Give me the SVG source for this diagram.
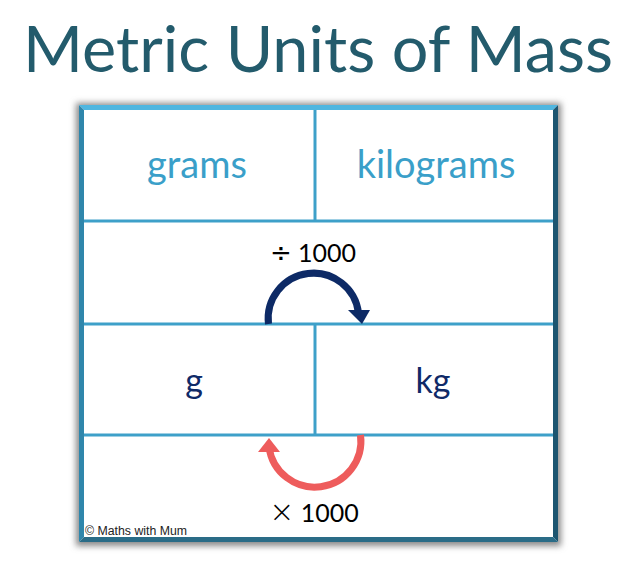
<svg xmlns="http://www.w3.org/2000/svg" width="639" height="566" viewBox="0 0 639 566">
<style>
.title{font-family:Lato,"Open Sans",sans-serif;font-size:64px;fill:#235B6C}
.unit{font-family:Lato,"Open Sans",sans-serif;font-size:38px;fill:#3A9FC9;text-anchor:middle}
.abbr{font-family:Lato,"Open Sans",sans-serif;font-size:34px;fill:#0F2A68;text-anchor:middle}
.op{font-family:Lato,"Open Sans",sans-serif;font-size:25px;fill:#000;text-anchor:middle}
.sym{font-family:"DejaVu Sans",sans-serif}
.thin{font-weight:300}
.copy{font-family:"Liberation Sans",Arial,sans-serif;font-size:12.3px;fill:#222}
.grid{stroke:#3EA0C9;stroke-width:3;fill:none}
</style>
<defs>
<filter id="shadow" x="-10%" y="-10%" width="120%" height="120%">
<feGaussianBlur stdDeviation="3"/>
</filter>
</defs>
<rect width="639" height="566" fill="#fff"/>
<g id="title"><text class="title" x="23" y="72" textLength="590" lengthAdjust="spacingAndGlyphs">Metric Units of Mass</text></g>
<g id="frame">
<rect x="76" y="103" width="485" height="443" fill="#8a8a8a" filter="url(#shadow)"/>
<rect x="79" y="105" width="479" height="437" fill="#fff"/>
<polygon points="79,105 558,105 553,110 84,110" fill="#4FB6E0"/>
<polygon points="79,105 84,110 84,537 79,542" fill="#2F86AB"/>
<polygon points="558,105 558,542 553,537 553,110" fill="#1C5570"/>
<polygon points="79,542 558,542 553,537 84,537" fill="#2A6C87"/>
</g>
<g id="grid">
<line class="grid" x1="84" y1="221" x2="553" y2="221"/>
<line class="grid" x1="84" y1="324" x2="553" y2="324"/>
<line class="grid" x1="84" y1="435" x2="553" y2="435"/>
<line class="grid" x1="315" y1="110" x2="315" y2="221"/>
<line class="grid" x1="315" y1="324" x2="315" y2="435"/>
</g>
<g id="node-grams"><text class="unit" x="197" y="178">grams</text></g>
<g id="node-kilograms"><text class="unit" x="436" y="178">kilograms</text></g>
<g id="node-g"><text class="abbr" x="194" y="393">g</text></g>
<g id="node-kg"><text class="abbr" x="433" y="393">kg</text></g>
<g id="connectors">
<path d="M268.5,324 A45,45 0 0 1 358.5,313" fill="none" stroke="#0D2A66" stroke-width="7"/>
<polygon points="348,310 370,310 362,324" fill="#0D2A66"/>
<path d="M360.5,435 A46,46 0 0 1 269,447" fill="none" stroke="#EE5C5C" stroke-width="7"/>
<polygon points="258,452 280,452 269,438" fill="#EE5C5C"/>
</g>
<g id="labels">
<text class="op" x="313" y="262"><tspan class="sym" font-size="26">÷</tspan> 1000</text>
<text class="op" x="314" y="522"><tspan class="sym thin" font-size="30">×</tspan> 1000</text>
</g>
<g id="copyright"><text class="copy" x="85" y="535">© Maths with Mum</text></g>
</svg>
